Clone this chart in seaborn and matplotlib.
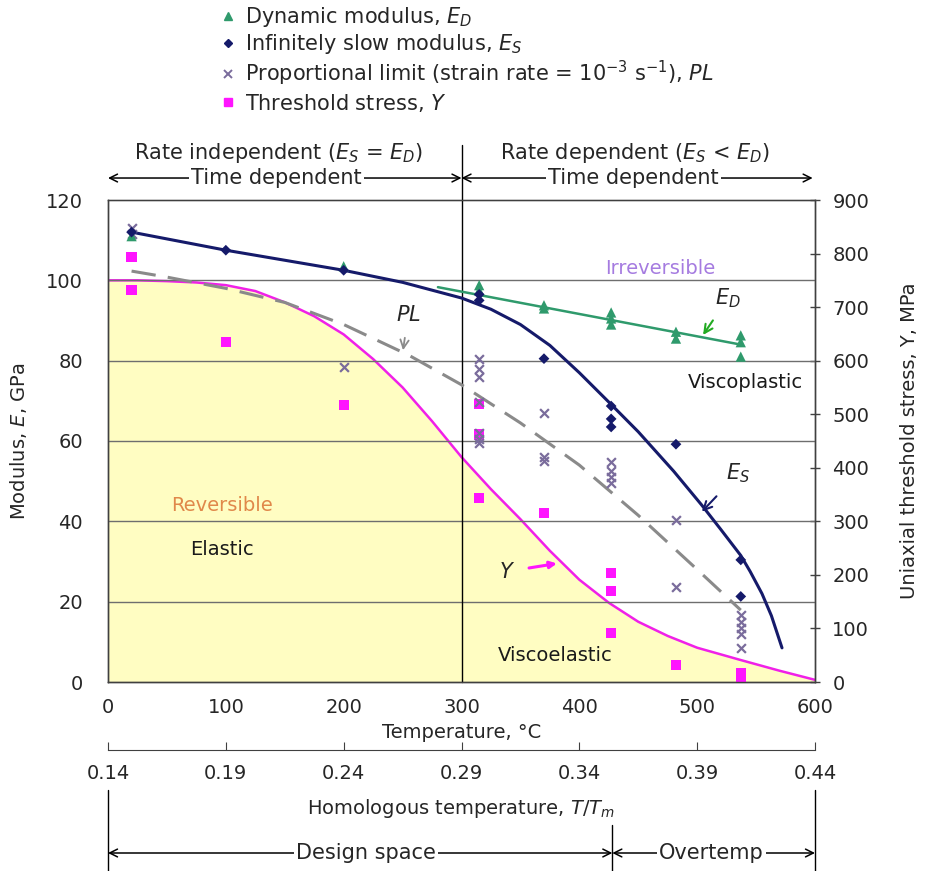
import numpy as np
import pandas as pd
import matplotlib
matplotlib.use("Agg")
import matplotlib.pyplot as plt
import matplotlib.transforms as mtransforms
from matplotlib.lines import Line2D
import seaborn as sns

# ---------------- data ----------------
# Dynamic modulus E_D (GPa)
T_ED = [20, 200, 315, 315, 370, 370, 427, 427, 427, 482, 482, 537, 537, 537]
E_D = [111, 103.5, 98.8, 97.5, 93.8, 93, 92, 90.5, 89, 87.2, 85.5, 86.3, 84.6, 81]
# Infinitely slow modulus E_S (GPa)
T_ES = [20, 100, 200, 315, 315, 370, 427, 427, 427, 482, 537, 537]
E_S = [112, 107.5, 102.5, 96.5, 95, 80.5, 68.7, 65.5, 63.5, 59.2, 30.4, 21.3]
# Proportional limit PL (on modulus axis)
T_PL = [20, 20, 200, 315, 315, 315, 315, 315, 315, 315, 370, 370, 370,
        427, 427, 427, 427, 482, 482, 537, 537, 537, 537, 537]
PL = [113, 111.5, 78.4, 80.5, 78, 76, 69.7, 62, 60.5, 59.5, 67, 56, 55,
      54.8, 52.5, 51, 49.5, 40.3, 23.7, 16.7, 15, 13.5, 12, 8.5]
# Threshold stress Y (MPa)
T_Y = [20, 20, 100, 200, 315, 315, 315, 370, 427, 427, 427, 482, 537, 537]
Y = [793, 732, 635, 517, 519, 462, 344, 316, 204, 170, 92, 32, 17, 5]

# fitted curves
T_ES_fit = [20, 100, 200, 250, 300, 325, 350, 375, 400, 426, 450, 480, 504,
            520, 537, 545, 555, 563, 572]
E_S_fit = [112, 107.5, 102.5, 99.5, 95.6, 92.8, 89, 83.8, 77, 69.4, 62.3, 52.5, 44,
           38, 31.5, 27.5, 22, 16.5, 8.5]
T_ED_fit = [280, 537]
E_D_fit = [98.3, 84]
T_PL_fit = [20, 50, 100, 150, 200, 255, 300, 350, 400, 450, 500, 537]
PL_fit = [102.3, 100.8, 98, 94.5, 89, 81.4, 74, 64.5, 54, 41.5, 28, 17.9]
T_Y_fit = [0, 25, 50, 75, 100, 125, 150, 175, 200, 225, 250, 275, 300, 325, 350,
           375, 400, 425, 450, 475, 500, 537, 570, 600]
Y_fit = [750, 750, 748.5, 746, 741, 730, 709, 683, 649, 603, 550, 487, 420, 360, 304,
         245, 191, 148, 112.5, 86, 64, 41, 21, 4]

x_ticks = [0, 100, 200, 300, 400, 500, 600]
homologous_labels = ["0.14", "0.19", "0.24", "0.29", "0.34", "0.39", "0.44"]
left_ticks = [0, 20, 40, 60, 80, 100, 120]
right_ticks = [0, 100, 200, 300, 400, 500, 600, 700, 800, 900]

# ---------------- style ----------------
sns.set_style("white")
plt.rcParams["font.family"] = ["DejaVu Sans"]
plt.rcParams["mathtext.fontset"] = "dejavusans"

FS = 14
FL = 15
C_ED = "#2f9a6c"
C_ES = "#151a6a"
C_PL = "#7a6c9c"
C_Y = "#ff14ff"
C_YLINE = "#f020e8"
C_BG = "#e6e1ee"
C_YEL = "#fffdc2"
C_GRID = "#6e6e6e"

fig = plt.figure(figsize=(9.25, 8.71), dpi=100)
ax = fig.add_axes([108 / 925, 1 - 682 / 871, 707 / 925, 482 / 871])
axr = ax.twinx()
ax.set_zorder(axr.get_zorder() + 1)
ax.patch.set_visible(False)
axr.set_facecolor(C_BG)

# ---------------- right axis: threshold stress ----------------
axr.fill_between(T_Y_fit, 0, Y_fit, color=C_YEL, lw=0, zorder=0)
sns.lineplot(x=T_Y_fit, y=Y_fit, ax=axr, color=C_YLINE, lw=1.8, sort=False,
             estimator=None, zorder=2)
sns.scatterplot(x=T_Y, y=Y, ax=axr, marker="s", color=C_Y, s=55,
                edgecolor="none", zorder=3)
axr.set_ylim(0, 900)
axr.set_yticks(right_ticks)
axr.tick_params(axis="y", labelsize=FS, direction="inout", length=7,
                width=1, color="#404040", pad=9)
axr.set_ylabel("Uniaxial threshold stress, Y, MPa", fontsize=FS, labelpad=22)
if axr.get_legend():
    axr.get_legend().remove()

# ---------------- left axis: moduli ----------------
for yv in left_ticks[1:-1]:
    ax.axhline(yv, color=C_GRID, lw=1.0, zorder=1)
ax.axvline(300, ymin=0, ymax=1.114, color="black", lw=1.0, clip_on=False, zorder=2)

sns.lineplot(x=T_PL_fit, y=PL_fit, ax=ax, color="#8a8a8a", lw=2.2, sort=False,
             estimator=None, zorder=3)
ax.lines[-1].set_dashes([8, 4])
sns.lineplot(x=T_ED_fit, y=E_D_fit, ax=ax, color=C_ED, lw=1.8, sort=False,
             estimator=None, zorder=3)
sns.lineplot(x=T_ES_fit, y=E_S_fit, ax=ax, color=C_ES, lw=2.2, sort=False,
             estimator=None, zorder=3)

sns.scatterplot(x=T_PL, y=PL, ax=ax, marker="x", color=C_PL, s=40,
                linewidth=1.6, zorder=4)
sns.scatterplot(x=T_ED, y=E_D, ax=ax, marker="^", color=C_ED, s=55,
                edgecolor="none", zorder=5)
sns.scatterplot(x=T_ES, y=E_S, ax=ax, marker="D", color=C_ES, s=30,
                edgecolor="none", zorder=5)
if ax.get_legend():
    ax.get_legend().remove()

ax.set_xlim(0, 600)
ax.set_ylim(0, 120)
ax.set_xticks(x_ticks)
ax.set_yticks(left_ticks)
ax.tick_params(axis="y", labelsize=FS, length=0, pad=18)
ax.tick_params(axis="x", labelsize=FS, direction="inout", length=7,
               width=1, color="#404040", pad=8)
ax.set_xlabel("Temperature, °C", fontsize=FS, labelpad=4)
ax.set_ylabel("Modulus, $E$, GPa", fontsize=FS, labelpad=12)
for a in (ax, axr):
    for sp in a.spines.values():
        sp.set_color("#404040")
        sp.set_linewidth(1.0)
axr.spines["top"].set_color("#8a8a8a")

# secondary (homologous) temperature axis
sec = ax.secondary_xaxis(-0.141)
sec.set_xticks(x_ticks, labels=homologous_labels)
sec.tick_params(labelsize=FS, direction="in", length=6, color="#404040", pad=10)
sec.spines["bottom"].set_color("#404040")
sec.set_xlabel("Homologous temperature, $T/T_m$", fontsize=FS, labelpad=10)

# ---------------- annotations inside the plot ----------------
ax.text(469, 103, "Irreversible", color="#a57be0", fontsize=FS, ha="center", va="center", zorder=6)
ax.text(541, 74.5, "Viscoplastic", color="#1a1a1a", fontsize=FS, ha="center", va="center", zorder=6)
ax.text(379.5, 6.7, "Viscoelastic", color="#1a1a1a", fontsize=FS, ha="center", va="center", zorder=6)
ax.text(96.5, 44, "Reversible", color="#e0884a", fontsize=FS, ha="center", va="center", zorder=6)
ax.text(96.5, 33, "Elastic", color="#1a1a1a", fontsize=FS, ha="center", va="center", zorder=6)

ax.annotate("$E_D$", xy=(505, 86.4), xytext=(526, 95.5), fontsize=FL,
            ha="center", va="center", zorder=6,
            arrowprops=dict(arrowstyle="->", color="#22aa22", lw=1.5,
                            shrinkA=6, shrinkB=0))
ax.annotate("$E_S$", xy=(504, 42.4), xytext=(535, 52), fontsize=FL,
            ha="center", va="center", zorder=6,
            arrowprops=dict(arrowstyle="->", color=C_ES, lw=1.5,
                            shrinkA=8, shrinkB=0))
ax.annotate("$PL$", xy=(250.4, 82.6), xytext=(254.7, 91.4), fontsize=FL,
            ha="center", va="center", zorder=6,
            arrowprops=dict(arrowstyle="->", color="#8a8a8a", lw=1.3,
                            shrinkA=7, shrinkB=0))
ax.annotate("$Y$", xy=(381, 29.5), xytext=(338.4, 27.5), fontsize=FL,
            ha="center", va="center", zorder=6,
            arrowprops=dict(arrowstyle="-|>", color=C_Y, lw=2.2,
                            mutation_scale=10, shrinkA=8, shrinkB=0))

# ---------------- annotations above the plot ----------------
bt = mtransforms.blended_transform_factory(ax.transData, ax.transAxes)
y_arrow = 1.0456
arr = dict(arrowstyle="<->", color="black", lw=1.1, shrinkA=0, shrinkB=0,
           mutation_scale=14)
ax.annotate("", xy=(0, y_arrow), xytext=(300, y_arrow), xycoords=bt,
            textcoords=bt, arrowprops=arr, annotation_clip=False)
ax.annotate("", xy=(300, y_arrow), xytext=(598, y_arrow), xycoords=bt,
            textcoords=bt, arrowprops=arr, annotation_clip=False)
box = dict(facecolor="white", edgecolor="none", pad=1.5)
ax.text(143, y_arrow, "Time dependent", transform=bt, fontsize=FL,
        ha="center", va="center", bbox=box)
ax.text(446, y_arrow, "Time dependent", transform=bt, fontsize=FL,
        ha="center", va="center", bbox=box)
ax.text(145, 1.097, "Rate independent ($E_S$ = $E_D$)", transform=bt,
        fontsize=FL, ha="center", va="center")
ax.text(447, 1.097, "Rate dependent ($E_S$ < $E_D$)", transform=bt,
        fontsize=FL, ha="center", va="center")

# ---------------- design space brackets below ----------------
y_b = (682 - 853) / 482
for xv, ytop in [(0, (682 - 790) / 482), (428, (682 - 825) / 482), (600, (682 - 790) / 482)]:
    ax.plot([xv, xv], [ytop, (682 - 871) / 482], transform=bt, color="black",
            lw=1.0, clip_on=False)
ax.annotate("", xy=(0, y_b), xytext=(428, y_b), xycoords=bt, textcoords=bt,
            arrowprops=arr, annotation_clip=False)
ax.annotate("", xy=(428, y_b), xytext=(600, y_b), xycoords=bt, textcoords=bt,
            arrowprops=arr, annotation_clip=False)
ax.text(219, y_b, "Design space", transform=bt, fontsize=FL, ha="center",
        va="center", bbox=box)
ax.text(512, y_b, "Overtemp", transform=bt, fontsize=FL, ha="center",
        va="center", bbox=box)

# ---------------- legend ----------------
handles = [
    Line2D([], [], ls="none", marker="^", color=C_ED, markersize=6),
    Line2D([], [], ls="none", marker="D", color=C_ES, markersize=4.5),
    Line2D([], [], ls="none", marker="x", color=C_PL, markersize=6, mew=1.4),
    Line2D([], [], ls="none", marker="s", color=C_Y, markersize=6),
]
labels = [
    "Dynamic modulus, $E_D$",
    "Infinitely slow modulus, $E_S$",
    "Proportional limit (strain rate = 10$^{-3}$ s$^{-1}$), $PL$",
    "Threshold stress, $Y$",
]
fig.legend(handles, labels, loc="upper left", bbox_to_anchor=(222 / 925, 1 - 5 / 871),
           frameon=False, fontsize=FL, handlelength=0.6, handletextpad=0.5,
           labelspacing=0.15, borderaxespad=0, borderpad=0)

fig.savefig("out.png", dpi=100, facecolor="white")
